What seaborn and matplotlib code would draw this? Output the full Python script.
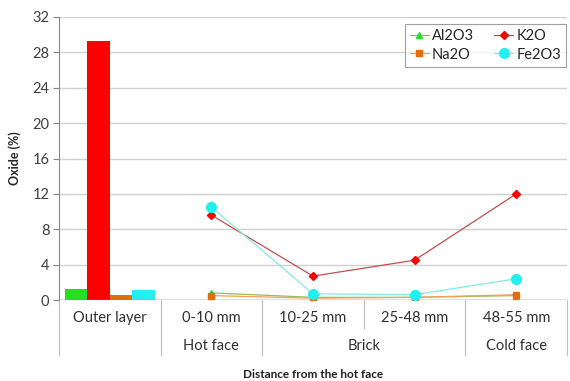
import pandas as pd
import numpy as np
import matplotlib.pyplot as plt
import seaborn as sns
from matplotlib.lines import Line2D
from matplotlib.transforms import blended_transform_factory

# categories along the x axis
cats = ["Outer layer", "0-10 mm", "10-25 mm", "25-48 mm", "48-55 mm"]
oxides = ["Al2O3", "K2O", "Na2O", "Fe2O3"]

# outer layer (bars)
outer_vals = [1.2, 29.3, 0.6, 1.1]

# brick profile (lines), 0-10 .. 48-55 mm
al2o3 = [0.8, 0.3, 0.3, 0.5]
k2o = [9.6, 2.7, 4.5, 12.0]
na2o = [0.5, 0.2, 0.3, 0.6]
fe2o3 = [10.5, 0.7, 0.6, 2.4]

bar_colors = {"Al2O3": "#22e022", "K2O": "#ff0000", "Na2O": "#e46c0a", "Fe2O3": "#22f0f0"}
line_colors = {"Al2O3": "#9bbb59", "K2O": "#c0504d", "Na2O": "#f0a060", "Fe2O3": "#88e8e8"}
markers = {"Al2O3": "^", "K2O": "D", "Na2O": "s", "Fe2O3": "o"}
msizes = {"Al2O3": 5, "K2O": 4.5, "Na2O": 5, "Fe2O3": 7}

sns.set_style("white")
plt.rcParams["font.family"] = ["Lato", "DejaVu Sans"]

fig = plt.figure(figsize=(5.7, 3.81), dpi=100)
ax = fig.add_axes([59 / 570, 1 - 300 / 381, 508 / 570, 283 / 381])

# bars for the outer layer
bars = pd.DataFrame({"cat": ["Outer layer"] * 4, "oxide": oxides, "value": outer_vals})
sns.barplot(data=bars, x="cat", y="value", hue="oxide", order=cats, hue_order=oxides,
            palette=bar_colors, width=0.88, saturation=1, legend=False, linewidth=0, ax=ax)

# lines for the brick profile
profile = {"Al2O3": al2o3, "K2O": k2o, "Na2O": na2o, "Fe2O3": fe2o3}
xpos = np.arange(1, len(cats))
handles = {}
for ox in oxides:
    h, = ax.plot(xpos, profile[ox], color=line_colors[ox], lw=0.9,
                 marker=markers[ox], ms=msizes[ox], mfc=bar_colors[ox], mec=bar_colors[ox], zorder=3)
    handles[ox] = h

ax.set_xlim(-0.5, len(cats) - 0.5)
ax.set_ylim(0, 32)
ax.set_yticks(np.arange(0, 33, 4))
ax.yaxis.grid(True, color="#d0d0d0", lw=1)
ax.set_axisbelow(True)
for s in ["top", "right", "bottom"]:
    ax.spines[s].set_visible(False)
ax.spines["left"].set_color("#888888")
ax.axhline(0, color="#888888", lw=1, zorder=4)
ax.tick_params(axis="y", left=True, length=4, color="#888888", labelsize=10.5, labelcolor="#404040", pad=3)
ax.set_xticks([])
ax.set_xlabel("")
ax.set_ylabel("Oxide (%)", fontsize=9, fontweight="bold", labelpad=8)

# two-level category axis
tr = blended_transform_factory(ax.transData, ax.transAxes)
for i, c in enumerate(cats):
    ax.text(i, -0.063, c, transform=tr, ha="center", va="center", fontsize=10.5, color="#303030")
ax.text(1, -0.162, "Hot face", transform=tr, ha="center", va="center", fontsize=10.5, color="#303030")
ax.text(2.5, -0.162, "Brick", transform=tr, ha="center", va="center", fontsize=10.5, color="#303030")
ax.text(4, -0.162, "Cold face", transform=tr, ha="center", va="center", fontsize=10.5, color="#303030")
for xb in [-0.5, 0.5, 1.5, 3.5, 4.5]:
    ax.add_line(Line2D([xb, xb], [0, -0.194], transform=tr, color="#c0c0c0", lw=0.9, clip_on=False))
ax.add_line(Line2D([2.5, 2.5], [0, -0.099], transform=tr, color="#c0c0c0", lw=0.9, clip_on=False))

fig.text(313 / 570, 1 - 374 / 381, "Distance from the hot face", ha="center", va="center",
         fontsize=8.5, fontweight="bold", color="#202020")

leg = ax.legend([handles["Al2O3"], handles["Na2O"], handles["K2O"], handles["Fe2O3"]],
                ["Al2O3", "Na2O", "K2O", "Fe2O3"], ncol=2, loc="upper right",
                bbox_to_anchor=(0.998, 0.975), fontsize=10.5, frameon=True, fancybox=False,
                handlelength=1.3, handletextpad=0.2, columnspacing=1.4, borderpad=0.35,
                labelspacing=0.3, borderaxespad=0)
leg.get_frame().set_edgecolor("#888888")
leg.get_frame().set_linewidth(0.8)

fig.savefig("out.png", dpi=100)
